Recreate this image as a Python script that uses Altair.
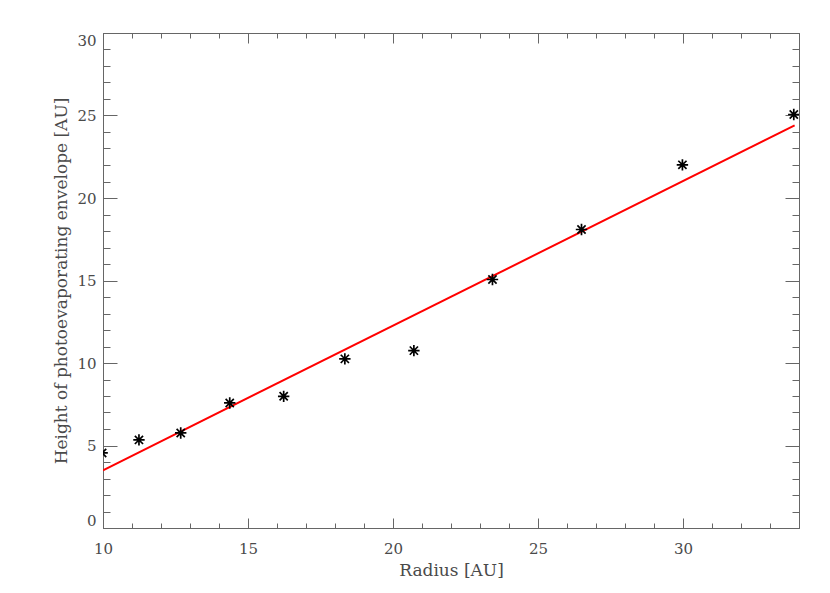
import altair as alt
import pandas as pd

# Measured data (radius in AU, envelope height in AU)
radius = [9.97, 11.24, 12.68, 14.37, 16.23, 18.34, 20.72, 23.43, 26.50, 29.98, 33.82]
height = [4.55, 5.34, 5.76, 7.58, 7.98, 10.25, 10.75, 15.06, 18.09, 22.01, 25.06]

# Linear fit end points
fit_radius = [10.0, 33.85]
fit_height = [3.5, 24.4]

# Tick values
x_major = [10, 15, 20, 25, 30]
x_minor = [10, 11, 12, 13, 14, 15, 16, 17, 18, 19, 20, 21, 22, 23, 24, 25,
           26, 27, 28, 29, 30, 31, 32, 33, 34]
y_major = [0, 5, 10, 15, 20, 25, 30]
y_minor = [0, 1, 2, 3, 4, 5, 6, 7, 8, 9, 10, 11, 12, 13, 14, 15, 16, 17, 18,
           19, 20, 21, 22, 23, 24, 25, 26, 27, 28, 29, 30]

df_pts = pd.DataFrame({"radius": radius, "height": height})
df_fit = pd.DataFrame({"radius": fit_radius, "height": fit_height})

FONT = "DejaVu Serif"
TXT = "#4a4a4a"
LINE = "#666666"

xs = alt.Scale(domain=[10, 34], nice=False, zero=False)
ys = alt.Scale(domain=[0, 30], nice=False, zero=False)

STAR = "M0,-1L0,1M-1,0L1,0M-0.72,-0.72L0.72,0.72M-0.72,0.72L0.72,-0.72"


def xaxis(orient, values, size, labels, title):
    return alt.Axis(
        orient=orient, values=values, tickSize=size, offset=-size,
        domain=False, grid=False, labels=labels, labelFlush=False,
        labelPadding=13, labelFont=FONT, labelFontSize=15, labelColor=TXT,
        tickColor=LINE, tickWidth=1, title=title, titleFont=FONT,
        titleFontSize=17, titleFontWeight="normal", titleColor=TXT,
        titlePadding=6,
    )


def yaxis(orient, values, size, labels, title):
    return alt.Axis(
        orient=orient, values=values, tickSize=size, offset=-size,
        domain=False, grid=False, labels=labels, labelFlush=True,
        labelPadding=7, labelFont=FONT, labelFontSize=15, labelColor=TXT,
        tickColor=LINE, tickWidth=1, title=title, titleFont=FONT,
        titleFontSize=17, titleFontWeight="normal", titleColor=TXT,
        titlePadding=6,
    )


fit = alt.Chart(df_fit).mark_line(color="#ff0000", strokeWidth=2, clip=True).encode(
    x=alt.X("radius:Q", scale=xs, axis=xaxis("bottom", x_minor, 5, False, "")),
    y=alt.Y("height:Q", scale=ys, axis=yaxis("left", y_minor, 7, False, "")),
)

pts = alt.Chart(df_pts).mark_point(
    shape=STAR, size=130, filled=False, stroke="black", strokeWidth=1.7,
    opacity=1, clip=True,
).encode(
    x=alt.X("radius:Q", scale=xs, axis=xaxis("bottom", x_major, 10, True, "Radius [AU]")),
    y=alt.Y("height:Q", scale=ys,
            axis=yaxis("left", y_major, 14, True, "Height of photoevaporating envelope [AU]")),
)

frame_major = alt.Chart(df_fit).mark_line(opacity=0).encode(
    x=alt.X("radius:Q", scale=xs, axis=xaxis("top", x_major, 10, False, "")),
    y=alt.Y("height:Q", scale=ys, axis=yaxis("right", y_major, 14, False, "")),
)

frame_minor = alt.Chart(df_fit).mark_line(opacity=0).encode(
    x=alt.X("radius:Q", scale=xs, axis=xaxis("top", x_minor, 5, False, "")),
    y=alt.Y("height:Q", scale=ys, axis=yaxis("right", y_minor, 7, False, "")),
)

chart = (
    alt.layer(fit, pts, frame_major, frame_minor)
    .resolve_axis(x="independent", y="independent")
    .properties(
        width=696, height=495,
        autosize=alt.AutoSizeParams(type="none"),
        padding={"left": 95, "top": 25, "right": 10, "bottom": 55},
        background="white",
    )
    .configure_view(stroke=LINE, strokeWidth=1)
)

chart.save("out.html", embed_options={"renderer": "svg", "actions": False})
